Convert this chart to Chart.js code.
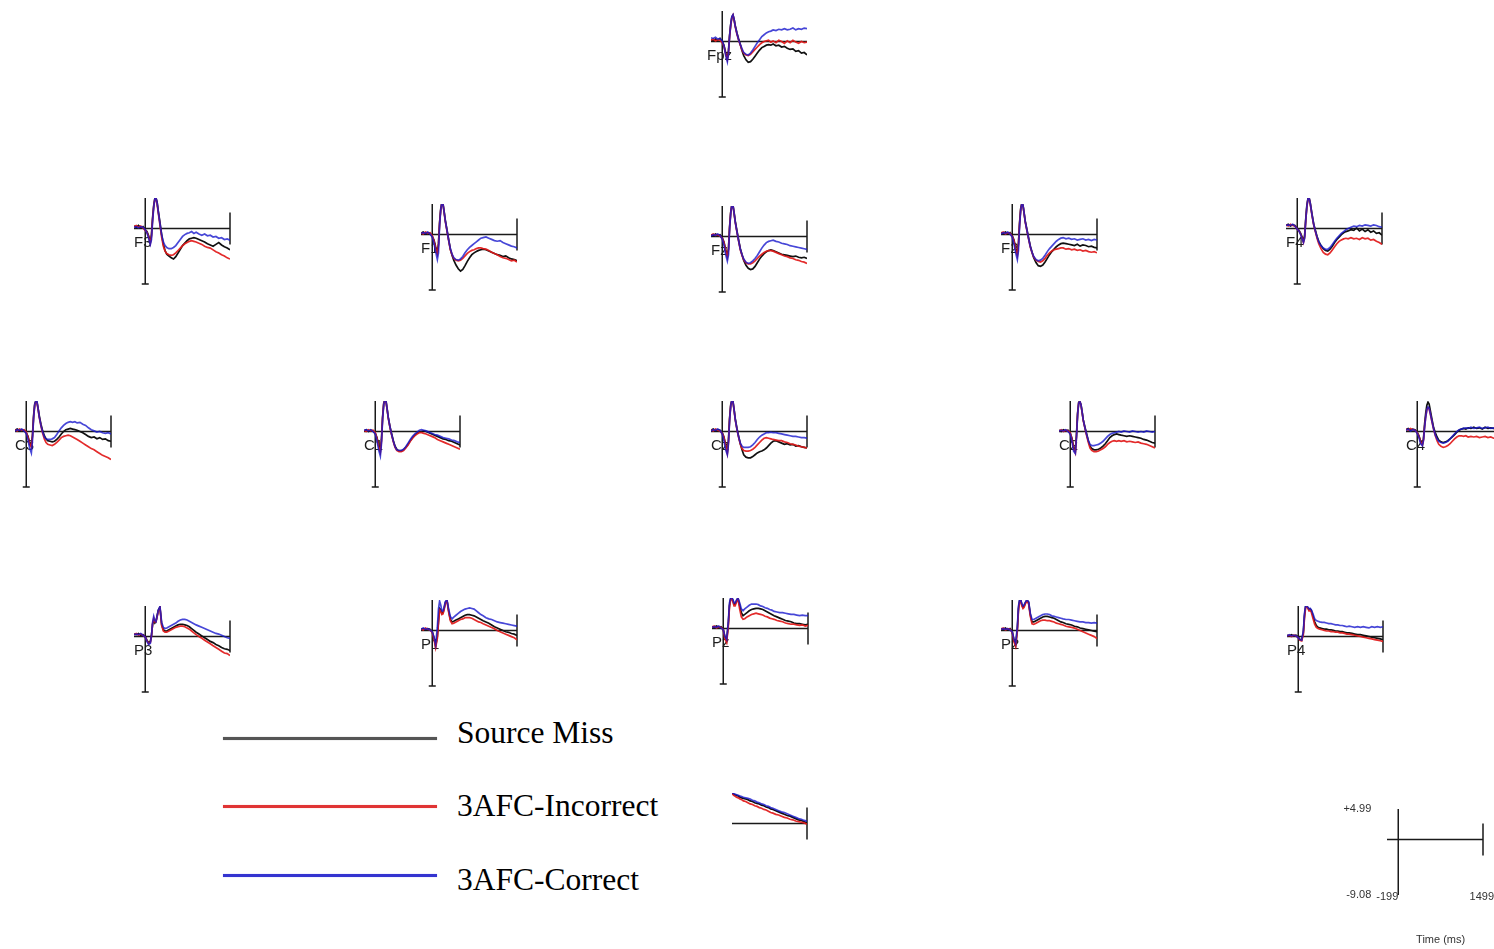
<!DOCTYPE html>
<html>
<head>
<meta charset="utf-8">
<script src="https://cdn.jsdelivr.net/npm/chart.js"></script>
<style>
  body { margin: 0; width: 1494px; height: 949px; overflow: hidden; background: #fff; position: relative; }
  canvas.panel { position: absolute; }
  .key-line { position: absolute; left: 223px; width: 214px; height: 3px; }
  .key-text { position: absolute; left: 457px; height: 40px; line-height: 40px; font: 31.5px "Liberation Serif", "Times New Roman", serif; color: #000; white-space: nowrap; }
</style>
</head>
<body>

<div class="key-line" style="top:737px;background:#555;box-shadow:0 0 1px #888"></div>
<div class="key-text" style="top:715px">Source Miss</div>
<div class="key-line" style="top:805px;background:#e03434;box-shadow:0 0 1px #f88"></div>
<div class="key-text" style="top:788px">3AFC-Incorrect</div>
<div class="key-line" style="top:874px;background:#3434d0;box-shadow:0 0 1px #88f"></div>
<div class="key-text" style="top:862px">3AFC-Correct</div>

<script>
// time axis (ms) shared by every channel
const times = [-199,-160,-120,-80,-40,0, 30,60,90,110,
  130,150,170,190,210,230,260,290,320,350,
  380,420,460,500,540,580,620,660,700,740,
  780,820,860,900,950,1000,1050,1100,1150,1200,
  1250,1300,1350,1400,1450,1499];

// amplitude (uV) per channel: miss = Source Miss, inc = 3AFC-Incorrect, cor = 3AFC-Correct
const Fpz_miss = [0.3,0.1,0.4,0.2,0.5,0.0, -0.6,-1.8,-2.8,-1.5, 1.0,2.8,4.0,4.3,3.6,2.6,1.4,0.4,-0.5,-1.5, -2.3,-3.0,-3.4,-3.3,-2.9,-2.4,-1.9,-1.4,-1.0,-0.8, -0.6,-0.5,-0.6,-0.4,-0.7,-0.6,-0.9,-0.8,-1.1,-1.3, -1.2,-1.6,-1.5,-1.9,-1.8,-2.2];
const Fpz_inc = [0.2,0.4,0.1,0.3,0.2,-0.2, -0.8,-2.0,-3.0,-1.8, 0.8,2.6,3.9,4.3,3.5,2.4,1.2,0.2,-0.6,-1.4, -1.9,-2.2,-2.3,-2.1,-1.7,-1.3,-0.9,-0.5,-0.2,0.0, 0.1,0.2,-0.1,0.1,-0.2,0.2,0.0,-0.3,0.1,-0.2, 0.2,-0.1,-0.3,0.0,-0.2,-0.1];
const Fpz_cor = [0.6,0.5,0.7,0.4,0.5,0.1, -0.7,-2.2,-3.3,-1.9, 0.9,2.8,4.1,4.4,3.6,2.5,1.3,0.3,-0.5,-1.2, -1.8,-2.1,-2.2,-1.9,-1.4,-0.8,-0.2,0.3,0.8,1.1, 1.4,1.6,1.7,1.9,1.8,2.0,1.9,2.1,1.9,2.0, 2.2,1.9,2.1,2.0,2.2,2.1];

const F3_miss = [0.4,0.2,0.5,0.1,0.3,-0.2, -0.5,-1.2,-2.2,-1.0, 1.8,3.8,4.9,5.0,4.3,2.9,1.0,-1.0,-2.6,-3.6, -4.2,-4.5,-4.8,-5.0,-4.6,-4.0,-3.4,-2.8,-2.4,-2.0, -1.7,-1.6,-1.5,-1.6,-1.8,-2.0,-2.2,-2.5,-2.7,-2.9, -2.6,-2.3,-2.7,-3.0,-3.2,-3.5];
const F3_inc = [0.3,0.5,0.2,0.4,0.1,-0.3, -0.6,-1.4,-2.4,-1.3, 1.5,3.6,4.8,4.9,4.0,2.6,0.6,-1.4,-2.9,-3.7, -4.1,-4.3,-4.4,-4.3,-4.0,-3.6,-3.2,-2.8,-2.5,-2.3, -2.1,-2.0,-2.1,-2.2,-2.4,-2.6,-2.9,-3.1,-3.2,-3.5, -3.8,-4.0,-4.3,-4.5,-4.8,-5.0];
const F3_cor = [0.2,0.3,0.1,0.3,0.2,-0.2, -0.7,-1.6,-2.6,-1.8, 1.2,3.5,4.9,5.0,4.2,2.8,0.8,-1.0,-2.2,-2.8, -3.1,-3.3,-3.3,-3.1,-2.8,-2.3,-1.8,-1.3,-1.0,-0.8, -0.7,-0.5,-0.8,-0.6,-0.9,-1.1,-0.9,-1.2,-1.1,-1.4, -1.3,-1.6,-1.5,-1.8,-1.7,-1.9];

const F1_miss = [0.2,0.4,0.1,0.3,0.2,-0.3, -0.9,-2.0,-3.0,-1.5, 2.0,4.2,5.2,5.0,3.8,2.4,0.8,-0.8,-2.4,-3.4, -4.2,-5.0,-5.6,-6.0,-5.7,-5.1,-4.4,-3.8,-3.3,-3.0, -2.8,-2.6,-2.5,-2.4,-2.5,-2.7,-2.9,-3.1,-3.3,-3.4, -3.6,-3.5,-3.8,-4.0,-4.1,-4.3];
const F1_inc = [0.3,0.1,0.4,0.2,0.3,-0.2, -1.0,-2.2,-3.2,-1.8, 1.8,4.0,5.1,5.0,3.6,2.2,0.6,-1.0,-2.5,-3.3, -3.9,-4.2,-4.3,-4.2,-3.9,-3.5,-3.1,-2.8,-2.6,-2.5, -2.3,-2.2,-2.2,-2.3,-2.4,-2.6,-2.9,-3.1,-3.3,-3.6, -3.8,-3.9,-4.1,-4.3,-4.2,-4.5];
const F1_cor = [0.2,0.3,0.2,0.4,0.1,-0.4, -1.4,-2.8,-4.1,-3.0, 1.5,4.0,5.2,5.0,3.7,2.3,0.7,-0.9,-2.3,-3.2, -3.8,-4.1,-4.2,-4.0,-3.6,-3.0,-2.5,-2.1,-1.8,-1.5, -1.2,-0.9,-0.6,-0.5,-0.4,-0.6,-0.8,-1.0,-1.1,-1.0, -1.3,-1.5,-1.7,-1.9,-2.0,-2.2];

const Fz_miss = [0.3,0.1,0.4,0.2,0.3,-0.2, -0.9,-2.1,-3.2,-2.0, 1.6,4.0,5.2,5.1,3.9,2.5,0.9,-0.6,-2.0,-3.0, -3.9,-4.7,-5.2,-5.4,-5.3,-4.9,-4.3,-3.7,-3.2,-2.8, -2.5,-2.3,-2.2,-2.3,-2.5,-2.7,-2.9,-3.0,-3.1,-3.2, -3.3,-3.2,-3.4,-3.5,-3.4,-3.6];
const Fz_inc = [0.2,0.4,0.2,0.3,0.1,-0.3, -1.0,-2.3,-3.4,-2.2, 1.4,3.9,5.1,5.0,3.7,2.3,0.7,-0.8,-2.2,-3.1, -3.8,-4.3,-4.5,-4.5,-4.3,-4.0,-3.6,-3.2,-2.9,-2.6, -2.4,-2.3,-2.3,-2.4,-2.6,-2.8,-3.0,-3.2,-3.3,-3.5, -3.6,-3.8,-3.9,-4.1,-4.2,-4.4];
const Fz_cor = [0.1,0.3,0.2,0.4,0.2,-0.4, -1.4,-2.9,-4.0,-3.0, 1.2,3.8,5.2,5.1,3.8,2.4,0.8,-0.7,-2.1,-3.0, -3.7,-4.2,-4.4,-4.3,-4.0,-3.6,-3.1,-2.5,-1.9,-1.4, -1.0,-0.8,-0.7,-0.6,-0.8,-0.9,-1.1,-1.2,-1.3,-1.5, -1.6,-1.7,-1.8,-1.9,-2.0,-2.1];

const F2_miss = [0.3,0.2,0.4,0.1,0.3,-0.2, -0.9,-2.2,-3.2,-1.4, 2.0,4.3,5.1,4.8,3.5,2.2,0.8,-0.6,-1.9,-2.9, -3.8,-4.6,-5.1,-5.2,-5.0,-4.5,-3.9,-3.3,-2.8,-2.4, -2.0,-1.7,-1.5,-1.4,-1.5,-1.6,-1.7,-1.8,-1.6,-1.9, -1.7,-1.8,-2.0,-1.9,-2.1,-2.2];
const F2_inc = [0.2,0.4,0.1,0.3,0.2,-0.3, -1.0,-2.4,-3.5,-1.6, 1.8,4.1,5.0,4.7,3.4,2.0,0.6,-0.8,-2.1,-3.0, -3.7,-4.2,-4.4,-4.5,-4.3,-3.9,-3.4,-3.0,-2.7,-2.5, -2.4,-2.3,-2.2,-2.2,-2.4,-2.3,-2.5,-2.4,-2.6,-2.5, -2.7,-2.6,-2.8,-2.9,-2.8,-3.0];
const F2_cor = [0.1,0.3,0.2,0.4,0.1,-0.4, -1.5,-3.0,-4.1,-2.6, 1.5,4.0,5.1,4.8,3.5,2.1,0.7,-0.7,-2.0,-2.9, -3.6,-4.1,-4.3,-4.2,-3.9,-3.4,-2.8,-2.3,-1.9,-1.5, -1.1,-0.8,-0.6,-0.5,-0.7,-0.6,-0.8,-0.7,-0.9,-0.8, -0.7,-0.9,-0.8,-1.0,-0.8,-0.9];

const F4_miss = [0.5,0.7,0.4,0.6,0.5,0.0, -0.3,-0.8,-1.5,-2.0, -1.2,1.5,3.8,4.9,5.0,4.2,2.4,0.8,-0.3,-1.3, -2.1,-2.8,-3.3,-3.6,-3.7,-3.4,-2.9,-2.3,-1.8,-1.4, -1.0,-0.7,-0.5,-0.4,-0.2,-0.3,0.1,-0.4,-0.1,-0.5, -0.2,-0.6,-0.4,-0.8,-0.7,-1.1];
const F4_inc = [0.6,0.4,0.7,0.5,0.4,-0.1, -0.4,-0.9,-1.7,-2.3, -1.5,1.2,3.5,4.8,4.9,4.0,2.2,0.6,-0.5,-1.6, -2.5,-3.3,-3.9,-4.2,-4.3,-4.0,-3.5,-3.0,-2.5,-2.1, -1.9,-1.7,-1.6,-1.7,-1.5,-1.7,-1.6,-1.8,-1.5,-1.7, -1.6,-1.9,-1.8,-2.1,-2.3,-2.6];
const F4_cor = [0.5,0.6,0.5,0.7,0.4,-0.1, -0.4,-1.0,-1.8,-2.3, -1.6,1.3,3.6,4.9,5.0,4.1,2.3,0.7,-0.4,-1.4, -2.2,-2.8,-3.2,-3.4,-3.4,-3.1,-2.6,-2.1,-1.6,-1.2, -0.8,-0.5,-0.2,0.0,0.2,0.4,0.3,0.5,0.4,0.6, 0.5,0.4,0.6,0.5,0.3,0.2];

const C3_miss = [0.2,0.4,0.1,0.3,0.2,-0.2, -0.8,-1.8,-2.3,-0.6, 2.6,4.5,5.0,4.8,3.8,2.6,1.2,0.1,-0.7,-1.2, -1.5,-1.6,-1.7,-1.6,-1.3,-0.9,-0.4,0.0,0.3,0.4, 0.5,0.4,0.3,0.2,0.0,-0.2,-0.5,-0.8,-1.0,-0.9, -1.2,-1.0,-1.3,-1.2,-1.5,-1.6];
const C3_inc = [0.3,0.1,0.4,0.2,0.3,-0.1, -0.9,-2.0,-2.6,-0.9, 2.3,4.3,4.9,4.7,3.6,2.3,0.9,-0.3,-1.2,-1.8, -2.1,-2.2,-2.3,-2.1,-1.8,-1.4,-1.0,-0.8,-0.7,-0.6, -0.7,-0.9,-1.1,-1.3,-1.6,-1.9,-2.2,-2.5,-2.8,-3.0, -3.3,-3.6,-3.9,-4.1,-4.3,-4.6];
const C3_cor = [0.1,0.3,0.2,0.4,0.1,-0.3, -1.3,-2.7,-3.5,-1.5, 2.2,4.4,5.0,4.9,3.7,2.4,1.0,-0.1,-0.9,-1.2, -1.3,-1.3,-1.2,-1.0,-0.5,0.1,0.6,1.0,1.3,1.5, 1.6,1.5,1.6,1.4,1.5,1.2,1.0,0.6,0.3,0.1, -0.1,0.0,-0.2,-0.3,-0.2,-0.4];

const C1_miss = [0.1,0.3,0.0,0.2,0.1,-0.3, -1.0,-2.2,-3.2,-1.3, 2.4,4.6,5.2,5.0,3.7,2.3,0.8,-0.4,-1.5,-2.4, -2.9,-3.2,-3.2,-3.0,-2.6,-2.1,-1.5,-1.0,-0.6,-0.3, -0.1,0.0,0.1,0.0,-0.2,-0.4,-0.6,-0.8,-1.0,-1.2, -1.3,-1.5,-1.6,-1.8,-2.0,-2.2];
const C1_inc = [0.2,0.0,0.3,0.1,0.2,-0.2, -1.1,-2.4,-3.4,-1.6, 2.2,4.5,5.1,4.9,3.6,2.2,0.7,-0.6,-1.7,-2.6, -3.1,-3.3,-3.3,-3.1,-2.7,-2.2,-1.6,-1.1,-0.7,-0.4, -0.2,-0.2,-0.3,-0.4,-0.6,-0.8,-1.0,-1.3,-1.5,-1.7, -1.9,-2.1,-2.3,-2.5,-2.7,-2.9];
const C1_cor = [0.2,0.3,0.1,0.3,0.0,-0.4, -1.5,-3.0,-4.0,-2.0, 2.0,4.4,5.2,5.0,3.7,2.3,0.8,-0.5,-1.6,-2.5, -3.0,-3.1,-3.1,-2.9,-2.5,-1.9,-1.3,-0.8,-0.4,-0.1, 0.2,0.3,0.2,0.1,-0.1,-0.3,-0.5,-0.6,-0.8,-1.0, -1.1,-1.2,-1.4,-1.5,-1.7,-1.8];

const Cz_miss = [0.2,0.4,0.1,0.3,0.2,-0.2, -0.9,-2.2,-3.4,-1.4, 2.2,4.4,5.1,4.9,3.6,2.1,0.5,-0.8,-2.0,-3.0, -3.8,-4.2,-4.3,-4.3,-4.1,-3.8,-3.5,-3.3,-3.2,-3.0, -2.7,-2.3,-1.9,-1.6,-1.5,-1.7,-1.9,-2.1,-2.0,-2.2, -2.1,-2.4,-2.3,-2.5,-2.6,-2.7];
const Cz_inc = [0.3,0.1,0.4,0.2,0.1,-0.3, -1.0,-2.4,-3.6,-1.7, 2.0,4.2,5.0,4.8,3.4,1.9,0.3,-1.0,-2.1,-2.8, -3.1,-3.2,-3.2,-3.1,-2.9,-2.6,-2.2,-1.8,-1.4,-1.1, -1.0,-1.1,-1.2,-1.3,-1.4,-1.5,-1.5,-1.7,-1.8,-2.0, -2.1,-2.2,-2.4,-2.5,-2.6,-2.7];
const Cz_cor = [0.1,0.3,0.2,0.4,0.2,-0.4, -1.5,-3.0,-3.8,-2.0, 1.8,4.2,5.1,4.9,3.5,2.0,0.4,-0.9,-1.9,-2.4, -2.6,-2.6,-2.6,-2.5,-2.2,-1.8,-1.3,-0.9,-0.6,-0.4, -0.2,-0.2,-0.1,-0.2,-0.2,-0.3,-0.4,-0.5,-0.6,-0.7, -0.8,-0.8,-0.9,-1.0,-1.0,-1.1];

const C2_miss = [0.2,0.0,0.3,0.1,0.2,-0.3, -1.1,-2.6,-3.2,-0.6, 3.0,4.8,4.9,4.4,3.2,1.9,0.7,-0.4,-1.5,-2.4, -2.8,-3.0,-3.0,-2.9,-2.7,-2.4,-2.0,-1.5,-1.0,-0.7, -0.5,-0.4,-0.5,-0.6,-0.7,-0.8,-0.7,-0.8,-0.9,-1.0, -1.1,-1.3,-1.4,-1.6,-1.8,-1.9];
const C2_inc = [0.1,0.3,0.0,0.2,0.1,-0.2, -1.2,-2.8,-3.5,-0.9, 2.8,4.7,4.9,4.3,3.1,1.8,0.5,-0.7,-1.8,-2.7, -3.1,-3.3,-3.3,-3.2,-3.0,-2.8,-2.5,-2.1,-1.8,-1.6, -1.5,-1.6,-1.5,-1.6,-1.5,-1.7,-1.6,-1.7,-1.8,-1.7, -1.9,-2.0,-2.1,-2.3,-2.5,-2.7];
const C2_cor = [0.1,0.2,0.1,0.3,0.0,-0.4, -1.6,-3.2,-3.6,-1.0, 2.7,4.7,4.9,4.4,3.2,1.9,0.6,-0.5,-1.5,-2.1, -2.3,-2.3,-2.2,-2.1,-1.9,-1.6,-1.2,-0.8,-0.5,-0.3, -0.2,-0.1,0.0,-0.1,0.1,0.0,-0.1,0.1,0.0,-0.1, 0.0,-0.1,0.1,0.0,-0.1,0.0];

const C4_miss = [0.3,0.5,0.2,0.4,0.3,-0.1, -0.7,-1.6,-2.1,-1.2, 1.2,3.0,4.3,4.8,4.5,3.5,2.0,0.6,-0.2,-0.9, -1.4,-1.7,-1.8,-1.7,-1.5,-1.2,-0.9,-0.5,-0.1,0.2, 0.4,0.5,0.4,0.6,0.5,0.7,0.5,0.6,0.4,0.7, 0.5,0.6,0.5,0.4,0.5,0.3];
const C4_inc = [0.4,0.2,0.5,0.3,0.2,-0.2, -0.8,-1.7,-2.2,-1.4, 0.8,2.4,3.5,3.9,3.7,2.9,1.6,0.3,-0.7,-1.5, -2.1,-2.4,-2.6,-2.5,-2.3,-2.0,-1.6,-1.2,-0.9,-0.7, -0.7,-0.8,-0.7,-0.9,-0.8,-0.9,-0.8,-1.0,-0.9,-0.8, -1.0,-0.9,-1.1,-1.0,-1.1,-1.2];
const C4_cor = [0.2,0.4,0.1,0.3,0.2,-0.3, -1.0,-2.0,-2.3,-1.5, 0.7,2.4,3.6,4.0,3.8,3.0,1.7,0.4,-0.6,-1.2, -1.6,-1.8,-1.9,-1.8,-1.6,-1.2,-0.8,-0.4,0.0,0.3, 0.4,0.5,0.6,0.5,0.7,0.5,0.6,0.7,0.5,0.6, 0.7,0.5,0.6,0.4,0.5,0.4];

const P3_miss = [0.4,0.3,0.5,0.2,0.3,0.0, -0.6,-1.0,-0.8,0.2, 2.0,2.6,2.2,2.5,3.4,4.3,4.8,2.0,1.1,0.9, 0.9,1.1,1.3,1.5,1.7,1.9,2.0,2.0,1.9,1.8, 1.6,1.3,1.0,0.7,0.4,0.1,-0.2,-0.5,-0.8,-1.0, -1.3,-1.5,-1.8,-2.0,-2.1,-2.3];
const P3_inc = [0.3,0.5,0.2,0.4,0.2,-0.1, -0.7,-1.2,-1.0,0.0, 2.1,3.0,2.4,2.4,3.2,4.1,4.7,1.8,0.9,0.7, 0.7,0.9,1.1,1.3,1.5,1.6,1.7,1.7,1.6,1.4, 1.2,0.9,0.6,0.3,0.0,-0.3,-0.6,-0.9,-1.2,-1.5, -1.8,-2.1,-2.4,-2.7,-2.8,-3.1];
const P3_cor = [0.3,0.4,0.3,0.5,0.2,-0.1, -0.8,-1.3,-1.1,0.1, 2.3,3.3,2.6,2.4,3.3,4.3,4.9,2.3,1.5,1.3, 1.4,1.6,1.8,2.0,2.2,2.5,2.7,2.8,2.8,2.7, 2.5,2.3,2.1,1.9,1.7,1.5,1.3,1.1,0.9,0.7, 0.5,0.4,0.2,0.0,-0.2,-0.3];

const P1_miss = [0.2,0.3,0.1,0.3,0.2,-0.2, -1.2,-2.5,-1.0,1.5, 3.6,3.4,2.8,2.9,3.6,4.5,5.0,3.2,1.8,1.4, 1.5,1.7,1.9,2.1,2.3,2.5,2.6,2.6,2.5,2.4, 2.2,2.0,1.8,1.6,1.4,1.2,0.9,0.6,0.4,0.2, 0.0,-0.2,-0.3,-0.5,-0.6,-0.8];
const P1_inc = [0.3,0.1,0.4,0.2,0.1,-0.3, -1.4,-2.8,-1.3,1.2, 3.4,3.2,2.6,2.7,3.4,4.4,4.9,3.0,1.6,1.1, 1.2,1.4,1.6,1.8,1.9,2.1,2.1,2.1,2.0,1.8, 1.6,1.4,1.3,1.1,0.9,0.7,0.5,0.3,0.0,-0.2, -0.4,-0.6,-0.8,-1.0,-1.2,-1.5];
const P1_cor = [0.2,0.4,0.2,0.3,0.1,-0.2, -1.0,-2.3,0.5,3.5, 4.8,4.2,3.2,3.2,3.8,4.7,5.0,3.5,2.3,1.9, 2.2,2.5,2.8,3.1,3.3,3.5,3.6,3.7,3.6,3.5, 3.2,2.9,2.6,2.4,2.1,1.9,1.8,1.6,1.4,1.3, 1.2,1.1,1.0,0.9,0.8,0.7];

const Pz_miss = [0.3,0.2,0.4,0.2,0.3,-0.1, -1.4,-2.0,0.8,3.8, 4.8,5.0,4.6,4.0,4.0,4.4,5.0,3.8,2.6,2.1, 2.3,2.6,2.9,3.1,3.2,3.3,3.3,3.2,3.1,2.9, 2.7,2.5,2.3,2.1,1.9,1.7,1.5,1.3,1.2,1.1, 0.9,0.8,0.8,0.7,0.6,0.7];
const Pz_inc = [0.2,0.4,0.1,0.3,0.2,-0.2, -1.7,-2.3,0.4,3.5, 4.6,4.9,4.4,3.7,3.7,4.2,4.9,3.2,1.9,1.5, 1.6,1.9,2.1,2.3,2.4,2.5,2.4,2.3,2.2,2.0, 1.9,1.7,1.6,1.5,1.3,1.2,1.1,0.9,0.8,0.7, 0.7,0.6,0.5,0.6,0.4,0.5];
const Pz_cor = [0.2,0.3,0.2,0.4,0.1,-0.2, -1.3,-1.8,1.2,4.2, 5.0,5.0,4.8,4.2,4.2,4.6,5.0,4.2,3.2,2.9, 3.2,3.5,3.8,4.0,4.0,4.0,3.9,3.7,3.6,3.4, 3.3,3.1,3.0,2.8,2.7,2.6,2.6,2.5,2.4,2.3, 2.3,2.2,2.1,2.2,2.1,2.1];

const P2_miss = [0.3,0.2,0.4,0.1,0.3,-0.2, -1.6,-2.4,0.2,3.6, 4.9,5.0,4.2,3.8,4.0,4.5,5.0,4.6,2.6,1.4, 1.4,1.6,1.8,2.0,2.2,2.3,2.3,2.2,2.1,2.0, 1.8,1.6,1.4,1.3,1.1,1.0,0.9,0.7,0.6,0.4, 0.3,0.2,0.1,0.0,-0.1,-0.2];
const P2_inc = [0.2,0.4,0.1,0.3,0.2,-0.3, -1.8,-2.6,-0.1,3.3, 4.7,4.9,4.0,3.6,3.8,4.3,4.9,4.3,2.3,1.1, 1.0,1.2,1.4,1.6,1.7,1.7,1.6,1.6,1.5,1.4, 1.2,1.1,1.0,0.9,0.7,0.6,0.5,0.4,0.2,0.0, -0.2,-0.4,-0.6,-0.8,-1.0,-1.3];
const P2_cor = [0.2,0.3,0.2,0.3,0.1,-0.2, -1.4,-2.1,0.6,4.0, 5.0,5.0,4.4,4.0,4.2,4.6,5.0,4.7,2.8,1.8, 1.8,2.0,2.2,2.4,2.6,2.7,2.7,2.6,2.4,2.3, 2.2,2.1,2.0,1.9,1.8,1.8,1.7,1.6,1.5,1.4, 1.4,1.3,1.3,1.2,1.3,1.2];

const P4_miss = [0.2,0.1,0.3,0.1,0.2,-0.1, -0.5,-0.6,0.6,3.4, 4.9,5.0,4.7,4.4,4.5,4.3,3.4,2.4,1.8,1.5, 1.4,1.3,1.2,1.2,1.1,1.1,1.0,0.9,0.9,0.8, 0.8,0.7,0.6,0.6,0.5,0.4,0.3,0.3,0.2,0.1, 0.0,-0.1,-0.2,-0.3,-0.4,-0.5];
const P4_inc = [0.1,0.2,0.0,0.2,0.1,-0.2, -0.6,-0.7,0.3,3.0, 4.7,4.9,4.6,4.2,4.3,4.0,3.0,2.0,1.5,1.3, 1.2,1.1,1.0,0.9,0.9,0.8,0.8,0.7,0.7,0.6, 0.6,0.5,0.4,0.4,0.3,0.2,0.1,0.0,-0.1,-0.2, -0.3,-0.4,-0.5,-0.6,-0.7,-0.8];
const P4_cor = [0.1,0.3,0.1,0.2,0.1,-0.2, -0.5,-0.6,0.9,3.8, 5.0,5.0,4.8,4.5,4.6,4.4,3.7,2.9,2.6,2.5, 2.4,2.3,2.3,2.2,2.1,2.1,2.0,1.9,1.9,1.8, 1.8,1.7,1.6,1.7,1.6,1.5,1.6,1.5,1.6,1.5, 1.4,1.6,1.5,1.6,1.5,1.6];

const Oz_miss = [0.2,0.3,0.1,0.3,0.2,-0.1, -1.0,-1.5,0.5,3.0, 4.5,5.0,5.0,4.9,4.8,4.7,4.6,4.5,4.3,4.2, 4.1,4.0,3.9,3.7,3.6,3.4,3.3,3.2,3.0,2.9, 2.7,2.6,2.4,2.3,2.1,1.9,1.7,1.5,1.3,1.2, 1.0,0.8,0.6,0.5,0.3,0.1];
const Oz_inc = [0.1,0.2,0.0,0.2,0.1,-0.2, -1.1,-1.7,0.2,2.7, 4.3,4.9,4.9,4.8,4.6,4.5,4.3,4.2,4.0,3.9, 3.7,3.6,3.4,3.2,3.1,2.9,2.8,2.6,2.5,2.3, 2.2,2.0,1.8,1.7,1.5,1.4,1.2,1.0,0.9,0.7, 0.6,0.4,0.3,0.2,0.1,-0.1];
const Oz_cor = [0.2,0.3,0.2,0.4,0.2,-0.1, -0.9,-1.4,0.7,3.2, 4.7,5.0,5.0,5.0,4.9,4.8,4.7,4.6,4.5,4.4, 4.3,4.2,4.1,4.0,3.8,3.7,3.5,3.4,3.2,3.1, 2.9,2.8,2.6,2.5,2.3,2.1,1.9,1.8,1.6,1.4, 1.2,1.0,0.8,0.7,0.5,0.4];

const seriesNames = ['Source Miss', '3AFC-Incorrect', '3AFC-Correct'];
const seriesColors = ['#111111', 'rgba(225,25,25,0.92)', 'rgba(25,25,205,0.8)'];
const yTop = 4.99, yBottom = -9.08, tStart = -199, tEnd = 1499;
const scaleLabels = ['+4.99', '-9.08', '-199', '1499', 'Time (ms)'];

const channelData = {
  Fpz: [Fpz_miss, Fpz_inc, Fpz_cor], F3: [F3_miss, F3_inc, F3_cor], F1: [F1_miss, F1_inc, F1_cor],
  Fz: [Fz_miss, Fz_inc, Fz_cor], F2: [F2_miss, F2_inc, F2_cor], F4: [F4_miss, F4_inc, F4_cor],
  C3: [C3_miss, C3_inc, C3_cor], C1: [C1_miss, C1_inc, C1_cor], Cz: [Cz_miss, Cz_inc, Cz_cor],
  C2: [C2_miss, C2_inc, C2_cor], C4: [C4_miss, C4_inc, C4_cor],
  P3: [P3_miss, P3_inc, P3_cor], P1: [P1_miss, P1_inc, P1_cor], Pz: [Pz_miss, Pz_inc, Pz_cor],
  P2: [P2_miss, P2_inc, P2_cor], P4: [P4_miss, P4_inc, P4_cor], Oz: [Oz_miss, Oz_inc, Oz_cor]
};

// page position of each panel: [x of time 0, y of 0 uV]
const place = {
  Fpz: [722, 42],
  F3: [145, 229], F1: [432, 235], Fz: [722, 237], F2: [1012, 235], F4: [1297, 229],
  C3: [26, 432], C1: [375, 432], Cz: [722, 432], C2: [1070, 432], C4: [1417, 432],
  P3: [145, 637], P1: [432, 631], Pz: [723, 629], P2: [1012, 631], P4: [1298, 637],
  Oz: [722, 824]
};

const PLOT_W = 96, PLOT_H = 86;
const zeroDy = yTop / (yTop - yBottom) * PLOT_H;

// axes, label and scale text drawn with the chart's own scales
const eegAxes = {
  id: 'eegAxes',
  beforeDatasetsDraw(chart, args, o) {
    const ctx = chart.ctx, x = chart.scales.x, y = chart.scales.y;
    const zx = x.getPixelForValue(0), zy = y.getPixelForValue(0);
    const top = y.getPixelForValue(yTop), bot = y.getPixelForValue(yBottom);
    const left = x.getPixelForValue(x.min), right = x.getPixelForValue(tEnd);
    ctx.save();
    if (o.label) {
      ctx.font = '15px "Liberation Sans", Arial, sans-serif';
      ctx.fillStyle = '#1e1e1e';
      ctx.textBaseline = 'middle';
      ctx.fillText(o.label, left - (o.labelShift || 0), zy + 14);
    }
    ctx.strokeStyle = '#1a1a1a';
    ctx.lineWidth = 1.5;
    ctx.beginPath();
    if (x.min < 0) {
      ctx.moveTo(zx, top); ctx.lineTo(zx, bot);
      if (o.cap) { ctx.moveTo(zx - 3.5, bot); ctx.lineTo(zx + 3.5, bot); }
    }
    ctx.moveTo(left, zy); ctx.lineTo(right, zy);
    if (o.tick) { ctx.moveTo(right, zy - 16); ctx.lineTo(right, zy + 16); }
    ctx.stroke();
    if (o.scaleText) {
      ctx.font = '11px "Liberation Sans", Arial, sans-serif';
      ctx.fillStyle = '#333';
      ctx.textBaseline = 'middle';
      ctx.textAlign = 'right';
      ctx.fillText(scaleLabels[0], zx - 27, top);
      ctx.fillText(scaleLabels[1], zx - 27, bot);
      ctx.fillText(scaleLabels[2], zx, bot + 2);
      ctx.fillText(scaleLabels[3], right + 11, bot + 2);
      ctx.textAlign = 'center';
      ctx.fillText(scaleLabels[4], (zx + right) / 2, bot + 45);
    }
    ctx.restore();
  }
};

function makePanel(name, x0, y0, opts) {
  const xMin = opts.xMin;
  const pad = opts.pad;
  const w = (tEnd - xMin) / (tEnd - tStart) * PLOT_W;
  const cv = document.createElement('canvas');
  cv.className = 'panel';
  cv.width = Math.round(pad.left + w + pad.right);
  cv.height = Math.round(pad.top + PLOT_H + pad.bottom);
  cv.style.left = (x0 + xMin / (tEnd - tStart) * PLOT_W - pad.left) + 'px';
  cv.style.top = (y0 - zeroDy - pad.top) + 'px';
  document.body.appendChild(cv);

  // blue on top, then red, black underneath
  const sets = (opts.series || []).map((vals, i) => ({
    label: seriesNames[i],
    data: times.map((t, k) => ({ x: t, y: vals[k] })),
    borderColor: seriesColors[i],
    borderWidth: 1.7,
    pointRadius: 0,
    tension: 0,
    fill: false,
    order: 2 - i
  }));

  new Chart(cv, {
    type: 'line',
    data: { datasets: sets },
    options: {
      responsive: false,
      animation: false,
      layout: { padding: pad },
      plugins: {
        legend: { display: false },
        tooltip: { enabled: false },
        eegAxes: opts.axes
      },
      scales: {
        x: { type: 'linear', min: xMin, max: tEnd, display: false },
        y: { min: yBottom, max: yTop, display: false }
      }
    },
    plugins: [eegAxes]
  });
}

Object.keys(channelData).forEach(name => {
  const p = place[name];
  const isOz = name === 'Oz';
  makePanel(name, p[0], p[1], {
    xMin: isOz ? 180 : tStart,
    pad: { left: 10, right: 4, top: 3, bottom: 3 },
    series: channelData[name],
    axes: {
      label: isOz ? '' : name,
      labelShift: name === 'Fpz' ? 4 : 0,
      tick: name !== 'Fpz',
      cap: true
    }
  });
});

// calibration scale in the corner
makePanel('scale', 1398, 840, {
  xMin: tStart,
  pad: { left: 48, right: 16, top: 6, bottom: 58 },
  series: [],
  axes: { label: '', tick: true, cap: false, scaleText: true }
});
</script>
</body>
</html>
